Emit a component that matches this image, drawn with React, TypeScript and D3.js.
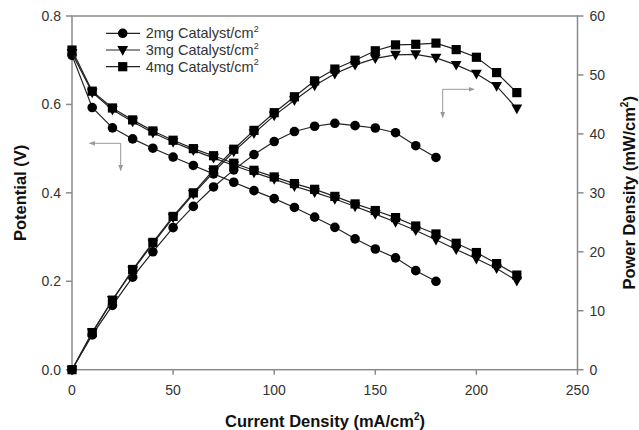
import React from "react";
import * as d3 from "d3";

const current2 = [0, 10, 20, 30, 40, 50, 60, 70, 80, 90, 100, 110, 120, 130, 140, 150, 160, 170, 180];
const current34 = [0, 10, 20, 30, 40, 50, 60, 70, 80, 90, 100, 110, 120, 130, 140, 150, 160, 170, 180, 190, 200, 210, 220];

const potential2 = [0.711, 0.593, 0.547, 0.522, 0.501, 0.481, 0.462, 0.443, 0.424, 0.405, 0.387, 0.367, 0.345, 0.322, 0.296, 0.273, 0.253, 0.224, 0.2];
const potential3 = [0.716, 0.627, 0.588, 0.561, 0.536, 0.515, 0.496, 0.479, 0.462, 0.446, 0.431, 0.415, 0.401, 0.386, 0.369, 0.352, 0.334, 0.315, 0.294, 0.272, 0.251, 0.229, 0.201];
const potential4 = [0.723, 0.63, 0.592, 0.565, 0.54, 0.519, 0.5, 0.484, 0.467, 0.451, 0.436, 0.421, 0.408, 0.392, 0.375, 0.36, 0.344, 0.325, 0.307, 0.286, 0.265, 0.24, 0.214];

const power2 = [0, 5.9, 10.9, 15.7, 20.0, 24.1, 27.7, 31.0, 33.9, 36.5, 38.7, 40.4, 41.3, 41.8, 41.4, 41.0, 40.2, 38.0, 36.0];
const power3 = [0, 6.3, 11.8, 16.8, 21.4, 25.8, 29.8, 33.5, 37.0, 40.1, 43.1, 45.7, 48.2, 50.2, 51.7, 52.8, 53.4, 53.5, 52.9, 51.7, 50.2, 48.1, 44.3];
const power4 = [0, 6.3, 11.8, 17.0, 21.6, 26.0, 30.0, 33.9, 37.4, 40.6, 43.6, 46.3, 49.0, 51.0, 52.5, 54.1, 55.1, 55.2, 55.4, 54.3, 53.0, 50.4, 47.0];

const seriesLabels = ["2mg Catalyst/cm", "3mg Catalyst/cm", "4mg Catalyst/cm"];
const xTicks = [0, 50, 100, 150, 200, 250];
const yLeftTicks = [0, 0.2, 0.4, 0.6, 0.8];
const yRightTicks = [0, 10, 20, 30, 40, 50, 60];

const W = 639;
const H = 430;
const L = 72, R = 577.5, T = 16, B = 369.7;

const x = d3.scaleLinear().domain([0, 250]).range([L, R]);
const yL = d3.scaleLinear().domain([0, 0.8]).range([B, T]);
const yR = d3.scaleLinear().domain([0, 60]).range([B, T]);

const axisColor = "#8a8a8a";
const textColor = "#333";
const font = "Liberation Sans, Arial, sans-serif";

type Shape = "circle" | "triangle" | "square";

function Marker({ shape, cx, cy }: { shape: Shape; cx: number; cy: number }) {
  if (shape === "circle") return <circle cx={cx} cy={cy} r={4.8} fill="#000" />;
  if (shape === "square") return <rect x={cx - 4.6} y={cy - 4.6} width={9.2} height={9.2} fill="#000" />;
  const s = 5.4;
  return <path d={`M${cx - s},${cy - s * 0.75}L${cx + s},${cy - s * 0.75}L${cx},${cy + s * 1.05}Z`} fill="#000" />;
}

const series = [
  { xs: current2, v: potential2, p: power2, shape: "circle" as Shape },
  { xs: current34, v: potential3, p: power3, shape: "triangle" as Shape },
  { xs: current34, v: potential4, p: power4, shape: "square" as Shape },
];

export default function App() {
  const line = d3.line<[number, number]>().x((d) => d[0]).y((d) => d[1]);
  return (
    <svg width={W} height={H} style={{ position: "absolute", left: 0, top: 0, background: "#fff" }} fontFamily={font}>
      <defs>
        <marker id="ah" viewBox="0 0 10 10" refX="9" refY="5" markerWidth="6" markerHeight="6" orient="auto">
          <path d="M0,1L10,5L0,9Z" fill="#999" />
        </marker>
      </defs>
      {/* frame */}
      <rect x={L} y={T} width={R - L} height={B - T} fill="none" stroke={axisColor} strokeWidth={1.5} />
      {/* x ticks */}
      {xTicks.map((t) => (
        <g key={"x" + t}>
          <line x1={x(t)} x2={x(t)} y1={B} y2={B + 5} stroke={axisColor} strokeWidth={1.5} />
          <text x={x(t)} y={B + 25} textAnchor="middle" fontSize={14} fill={textColor}>{t}</text>
        </g>
      ))}
      {yLeftTicks.map((t) => (
        <g key={"yl" + t}>
          <line x1={L - 6} x2={L} y1={yL(t)} y2={yL(t)} stroke={axisColor} strokeWidth={1.5} />
          <text x={L - 11} y={yL(t) + 5} textAnchor="end" fontSize={14} fill={textColor}>{t.toFixed(1)}</text>
        </g>
      ))}
      {yRightTicks.map((t) => (
        <g key={"yr" + t}>
          <line x1={R} x2={R + 6} y1={yR(t)} y2={yR(t)} stroke={axisColor} strokeWidth={1.5} />
          <text x={R + 12} y={yR(t) + 5} textAnchor="start" fontSize={14} fill={textColor}>{t}</text>
        </g>
      ))}
      {/* axis titles */}
      <text x={325} y={427} textAnchor="middle" fontSize={16.5} fontWeight="bold" fill="#111">
        Current Density (mA/cm<tspan fontSize={10} dy={-7}>2</tspan><tspan dy={7}>)</tspan>
      </text>
      <text transform={`translate(26,${(T + B) / 2}) rotate(-90)`} textAnchor="middle" fontSize={16.5} fontWeight="bold" fill="#111">
        Potential (V)
      </text>
      <text transform={`translate(635,${(T + B) / 2}) rotate(-90)`} textAnchor="middle" fontSize={16.5} fontWeight="bold" fill="#111">
        Power Density (mW/cm<tspan fontSize={10} dy={-7}>2</tspan><tspan dy={7}>)</tspan>
      </text>
      {/* data */}
      {series.map((s, i) => {
        const vPts = s.xs.map((c, j) => [x(c), yL(s.v[j])] as [number, number]);
        const pPts = s.xs.map((c, j) => [x(c), yR(s.p[j])] as [number, number]);
        return (
          <g key={"s" + i}>
            <path d={line(vPts) || ""} fill="none" stroke="#222" strokeWidth={1.2} />
            <path d={line(pPts) || ""} fill="none" stroke="#222" strokeWidth={1.2} />
            {vPts.map((p, j) => <Marker key={"v" + j} shape={s.shape} cx={p[0]} cy={p[1]} />)}
            {pPts.map((p, j) => <Marker key={"p" + j} shape={s.shape} cx={p[0]} cy={p[1]} />)}
          </g>
        );
      })}
      {/* arrows */}
      <line x1={120.7} y1={143.3} x2={89.5} y2={143.3} stroke="#999" strokeWidth={1} markerEnd="url(#ah)" />
      <line x1={120.7} y1={143.3} x2={120.7} y2={170.5} stroke="#999" strokeWidth={1} markerEnd="url(#ah)" />
      <line x1={442.7} y1={89.3} x2={474} y2={89.3} stroke="#999" strokeWidth={1} markerEnd="url(#ah)" />
      <line x1={442.7} y1={89.3} x2={442.7} y2={117.5} stroke="#999" strokeWidth={1} markerEnd="url(#ah)" />
      {/* legend */}
      {series.map((s, i) => {
        const ly = 33.3 + i * 16.7;
        return (
          <g key={"lg" + i}>
            <line x1={106} x2={140} y1={ly} y2={ly} stroke="#222" strokeWidth={1.2} />
            <Marker shape={s.shape} cx={122.7} cy={ly} />
            <text x={145.7} y={ly + 5} fontSize={14.5} fill={textColor}>
              {seriesLabels[i]}<tspan fontSize={9} dy={-6.5}>2</tspan>
            </text>
          </g>
        );
      })}
    </svg>
  );
}
